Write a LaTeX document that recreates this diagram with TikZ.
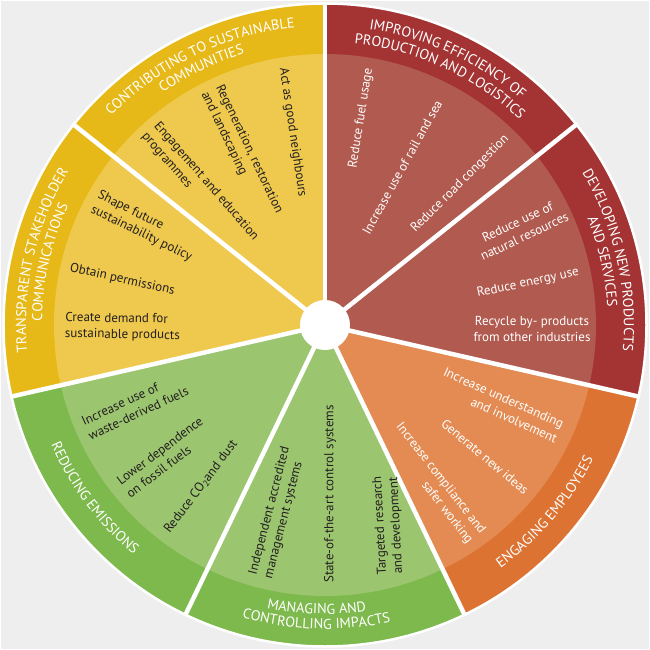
\documentclass[tikz,border=0pt]{standalone}
\usepackage{fontspec}
\setmainfont{PT Sans}
\usetikzlibrary{decorations.text}
\definecolor{bgc}{HTML}{EEEEEE}
\definecolor{ydark}{HTML}{E7B918}
\definecolor{ylight}{HTML}{EFC94E}
\definecolor{rdark}{HTML}{A33433}
\definecolor{rlight}{HTML}{B15A4F}
\definecolor{odark}{HTML}{DC7332}
\definecolor{olight}{HTML}{E38B53}
\definecolor{gdark}{HTML}{7DB94C}
\definecolor{glight}{HTML}{9CC570}
\definecolor{txtdark}{HTML}{231F20}
\newcommand{\ttlfont}{\fontsize{14.3}{16}\selectfont}
\newcommand{\cwtitle}[3]{\path[decorate,decoration={text along path,text align=center,text color=white,text={|\ttlfont|#3}}] (#2:#1) arc[start angle=#2,end angle=#2-51.4286,radius=#1];}
\newcommand{\ccwtitle}[3]{\path[decorate,decoration={text along path,text align=center,text color=white,text={|\ttlfont|#3}}] (#2:#1) arc[start angle=#2,end angle=#2+51.4286,radius=#1];}
\begin{document}
\begin{tikzpicture}[x=1pt,y=1pt,
  itext/.style={font=\fontsize{13}{16}\selectfont,inner sep=0pt},
  wt/.style={itext,text=white},
  bk/.style={itext,text=txtdark}]
\useasboundingbox (-325,-325) rectangle (325,325);
\fill[white] (-325,-325) rectangle (325,325);
\fill[bgc] (-323.5,-323.5) rectangle (323.5,323.5);
% sectors
\foreach \a/\dk/\lt in {141.4286/ydark/ylight, 90/rdark/rlight, 38.5714/rdark/rlight, -12.8571/odark/olight, -64.2857/gdark/glight, -115.7143/gdark/glight, -167.1429/ydark/ylight}{
  \fill[\dk] (0,0) -- (\a:321) arc[start angle=\a,end angle=\a-51.4286,radius=321] -- cycle;
  \fill[\lt] (0,0) -- (\a:271) arc[start angle=\a,end angle=\a-51.4286,radius=271] -- cycle;
}
\draw[white,line width=2.5] (0,0) circle[radius=321.5];
\foreach \i in {0,...,6}{
  \draw[white,line width=4.5] (0,0) -- (90-\i*51.4286:323);
}
\fill[white] (0,0) circle[radius=25];
% titles
\cwtitle{299}{141.4286}{CONTRIBUTING TO SUSTAINABLE}
\cwtitle{283}{141.4286}{COMMUNITIES}
\cwtitle{299}{91}{IMPROVING EFFICIENCY OF}
\cwtitle{283}{91}{PRODUCTION AND LOGISTICS}
\cwtitle{299}{38.5714}{DEVELOPING NEW PRODUCTS}
\cwtitle{283}{38.5714}{AND SERVICES}
\cwtitle{299}{192.8571}{TRANSPARENT STAKEHOLDER}
\cwtitle{283}{192.8571}{COMMUNICATIONS}
\ccwtitle{300}{-66.1}{ENGAGING EMPLOYEES}
\ccwtitle{289}{-117.4}{MANAGING AND}
\ccwtitle{304}{-117.4}{CONTROLLING IMPACTS}
\ccwtitle{299}{-168.8}{REDUCING EMISSIONS}
% contributing
\node[bk,anchor=west,rotate=-81.5] (act) at (-42,257) {Act as good neighbours};
\node[bk,anchor=west,rotate=-64.5,align=left] (regen) at (-113.5,236) {Regeneration, restoration\\and landscaping};
\node[bk,anchor=west,rotate=-49,align=left] (engage) at (-175,196) {Engagement and education\\programmes};
% transparent
\node[bk,anchor=west,rotate=-26,align=left] (shape) at (-230,123) {Shape future\\sustainability policy};
\node[bk,anchor=west,rotate=-12.5] (obtain) at (-255,57) {Obtain permissions};
\node[bk,anchor=west,rotate=-1,align=left] (create) at (-260,-1) {Create demand for\\sustainable products};
% reducing
\node[bk,anchor=west,rotate=25,align=left] (waste) at (-239.5,-104) {Increase use of\\waste-derived fuels};
\node[bk,anchor=west,rotate=37,align=left] (lower) at (-202,-163.5) {Lower dependence\\on fossil fuels};
\node[bk,anchor=west,rotate=53] (co2) at (-158,-207) {Reduce CO\textsubscript{2}and dust};
% managing
\node[bk,anchor=west,rotate=75.5,align=left] (indep) at (-64,-251.5) {Independent accredited\\management systems};
\node[bk,anchor=west,rotate=90] (state) at (5,-258) {State-of-the-art control systems};
\node[bk,anchor=west,rotate=93,align=left] (target) at (66,-249.5) {Targeted research\\and development};
% improving
\node[wt,anchor=east,rotate=81] (fuel) at (44,257) {Reduce fuel usage};
\node[wt,anchor=east,rotate=61] (rail) at (114,224) {Increase use of rail and sea};
\node[wt,anchor=east,rotate=45] (road) at (182,188) {Reduce road congestion};
% developing
\node[wt,rotate=25.5,align=center] (natural) at (196,96) {Reduce use of\\natural resources};
\node[wt,rotate=12] (energy) at (203,42) {Reduce energy use};
\node[wt,rotate=0,align=center] (recycle) at (207,-4) {Recycle by- products\\from other industries};
% engaging
\node[wt,anchor=east,rotate=-24,align=right] (underst) at (235,-106.5) {Increase understanding\\and involvement};
\node[wt,anchor=east,rotate=-40] (ideas) at (202,-167) {Generate new ideas};
\node[wt,anchor=east,rotate=-52,align=right] (compl) at (151.5,-212.5) {Increase compliance and\\safer working};
\end{tikzpicture}
\end{document}
